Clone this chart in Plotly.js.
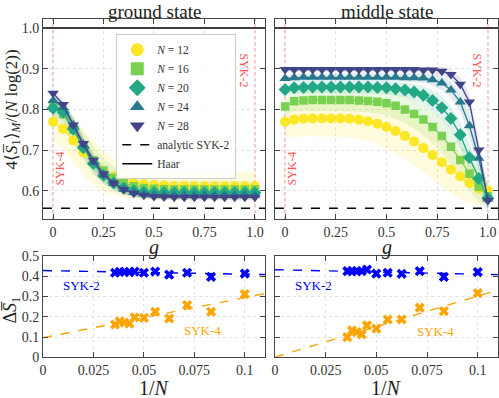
<!DOCTYPE html>
<html>
<head>
<meta charset="utf-8">
<script src="https://cdn.plot.ly/plotly-3.0.1.min.js"></script>
<style>
  html, body { margin: 0; padding: 0; background: #fff; }
  #plot { width: 499px; height: 398px; }
</style>
</head>
<body>
<div id="plot"></div>
<script>
// sizes of the systems shown in the top panels
var sizes = [12, 16, 20, 24, 28];
var colors = ['#fde725', '#7ad151', '#22a884', '#2a788e', '#414487'];
var symbols = ['circle', 'square', 'diamond', 'triangle-up', 'triangle-down'];

// ground state, coupling g
var gGround = [0, 0.05, 0.1, 0.15, 0.2, 0.25, 0.3, 0.35, 0.4, 0.45, 0.5, 0.55, 0.6, 0.65, 0.7, 0.75, 0.8, 0.85, 0.9, 0.95, 1.0];
var ground12 = [0.770, 0.752, 0.724, 0.694, 0.668, 0.648, 0.635, 0.626, 0.620, 0.616, 0.614, 0.613, 0.612, 0.612, 0.611, 0.611, 0.611, 0.611, 0.611, 0.611, 0.611];
var ground16 = [0.806, 0.788, 0.750, 0.710, 0.675, 0.650, 0.632, 0.619, 0.611, 0.607, 0.605, 0.604, 0.603, 0.603, 0.603, 0.603, 0.603, 0.603, 0.603, 0.603, 0.603];
var ground20 = [0.803, 0.793, 0.752, 0.706, 0.667, 0.638, 0.619, 0.607, 0.600, 0.597, 0.596, 0.595, 0.595, 0.595, 0.595, 0.595, 0.595, 0.595, 0.595, 0.595, 0.595];
var ground24 = [0.822, 0.805, 0.762, 0.713, 0.670, 0.639, 0.618, 0.604, 0.596, 0.592, 0.590, 0.589, 0.589, 0.589, 0.589, 0.589, 0.589, 0.589, 0.589, 0.589, 0.589];
var ground28 = [0.840, 0.812, 0.762, 0.716, 0.675, 0.642, 0.619, 0.603, 0.594, 0.589, 0.586, 0.585, 0.584, 0.584, 0.584, 0.584, 0.584, 0.584, 0.584, 0.584, 0.584];
// half width of the shaded bands
var groundErr12 = [0.045, 0.050, 0.055, 0.055, 0.055, 0.050, 0.045, 0.042, 0.040, 0.038, 0.037, 0.036, 0.035, 0.035, 0.035, 0.035, 0.035, 0.035, 0.035, 0.035, 0.035];
var groundErr16 = [0.025, 0.030, 0.035, 0.035, 0.035, 0.030, 0.027, 0.025, 0.024, 0.023, 0.022, 0.022, 0.022, 0.022, 0.022, 0.022, 0.022, 0.022, 0.022, 0.022, 0.022];
var groundErr20 = [0.018, 0.020, 0.025, 0.025, 0.024, 0.021, 0.019, 0.017, 0.016, 0.015, 0.015, 0.015, 0.015, 0.015, 0.015, 0.015, 0.015, 0.015, 0.015, 0.015, 0.015];
var groundErr24 = [0.012, 0.015, 0.018, 0.018, 0.017, 0.015, 0.013, 0.012, 0.011, 0.010, 0.010, 0.010, 0.010, 0.010, 0.010, 0.010, 0.010, 0.010, 0.010, 0.010, 0.010];
var groundErr28 = [0.008, 0.010, 0.012, 0.012, 0.012, 0.010, 0.009, 0.008, 0.008, 0.007, 0.007, 0.007, 0.007, 0.007, 0.007, 0.007, 0.007, 0.007, 0.007, 0.007, 0.007];

// middle state
var gMiddle = [0, 0.045, 0.091, 0.136, 0.182, 0.227, 0.273, 0.318, 0.364, 0.409, 0.455, 0.5, 0.545, 0.591, 0.636, 0.682, 0.727, 0.773, 0.818, 0.864, 0.909, 0.955, 1.0];
var middle12 = [0.770, 0.775, 0.777, 0.778, 0.778, 0.778, 0.778, 0.777, 0.775, 0.771, 0.765, 0.757, 0.747, 0.735, 0.721, 0.705, 0.688, 0.670, 0.652, 0.635, 0.619, 0.606, 0.601];
var middle16 = [0.807, 0.820, 0.822, 0.823, 0.823, 0.823, 0.823, 0.823, 0.822, 0.821, 0.819, 0.815, 0.809, 0.800, 0.789, 0.775, 0.757, 0.735, 0.708, 0.676, 0.642, 0.610, 0.586];
var middle20 = [0.849, 0.853, 0.854, 0.855, 0.855, 0.855, 0.855, 0.855, 0.855, 0.855, 0.854, 0.853, 0.851, 0.848, 0.843, 0.835, 0.822, 0.804, 0.778, 0.738, 0.682, 0.630, 0.582];
var middle24 = [0.876, 0.878, 0.879, 0.879, 0.879, 0.879, 0.879, 0.879, 0.879, 0.879, 0.879, 0.879, 0.879, 0.878, 0.878, 0.877, 0.873, 0.865, 0.848, 0.818, 0.760, 0.680, 0.580];
var middle28 = [0.898, 0.898, 0.898, 0.898, 0.898, 0.898, 0.898, 0.898, 0.898, 0.898, 0.898, 0.898, 0.898, 0.898, 0.898, 0.897, 0.897, 0.894, 0.886, 0.862, 0.818, 0.700, 0.576];
var middleErr12 = [0.040, 0.042, 0.043, 0.044, 0.044, 0.045, 0.045, 0.046, 0.047, 0.048, 0.050, 0.052, 0.054, 0.056, 0.058, 0.060, 0.060, 0.060, 0.058, 0.055, 0.050, 0.040, 0.030];
var middleErr16 = [0.020, 0.025, 0.026, 0.026, 0.026, 0.026, 0.027, 0.027, 0.028, 0.028, 0.029, 0.030, 0.032, 0.034, 0.036, 0.038, 0.040, 0.042, 0.044, 0.044, 0.042, 0.038, 0.030];
var middleErr20 = [0.012, 0.014, 0.015, 0.015, 0.015, 0.015, 0.015, 0.015, 0.015, 0.015, 0.015, 0.016, 0.017, 0.018, 0.020, 0.022, 0.025, 0.028, 0.030, 0.032, 0.033, 0.032, 0.030];
var middleErr24 = [0.008, 0.009, 0.009, 0.009, 0.009, 0.009, 0.009, 0.009, 0.009, 0.009, 0.009, 0.009, 0.010, 0.010, 0.011, 0.012, 0.014, 0.017, 0.020, 0.024, 0.028, 0.030, 0.028];
var middleErr28 = [0.006, 0.006, 0.006, 0.006, 0.006, 0.006, 0.006, 0.006, 0.006, 0.006, 0.006, 0.006, 0.006, 0.006, 0.007, 0.007, 0.008, 0.010, 0.013, 0.017, 0.022, 0.026, 0.024];

var analyticSYK2 = 0.557;
var haarValue = 1.0;

// bottom panels: Delta S vs 1/N
var invN = [0.0357, 0.0380, 0.0403, 0.0428, 0.0454, 0.0500, 0.0556, 0.0625, 0.0714, 0.0833, 0.1000];
var groundSYK2 = [0.417, 0.422, 0.422, 0.420, 0.423, 0.417, 0.423, 0.408, 0.417, 0.397, 0.413];
var groundSYK4 = [0.162, 0.178, 0.172, 0.167, 0.197, 0.195, 0.225, 0.192, 0.258, 0.225, 0.312];
var middleSYK2 = [0.425, 0.425, 0.425, 0.425, 0.433, 0.413, 0.417, 0.412, 0.425, 0.397, 0.420];
var middleSYK4 = [0.100, 0.133, 0.125, 0.113, 0.158, 0.142, 0.187, 0.187, 0.245, 0.228, 0.317];
// linear fits [intercept, slope]
var fitGroundSYK2 = [0.428, -0.18];
var fitGroundSYK4 = [0.097, 1.98];
var fitMiddleSYK2 = [0.432, -0.22];
var fitMiddleSYK4 = [0.002, 3.0];

var gRange = [-0.05, 1.05];
var invRange = [0, 0.11];

var groundSets = [ground12, ground16, ground20, ground24, ground28];
var groundErrs = [groundErr12, groundErr16, groundErr20, groundErr24, groundErr28];
var middleSets = [middle12, middle16, middle20, middle24, middle28];
var middleErrs = [middleErr12, middleErr16, middleErr20, middleErr24, middleErr28];

var font = 'Liberation Serif';
var bandAlpha = ['rgba(253,231,37,0.16)', 'rgba(122,209,81,0.16)', 'rgba(34,168,132,0.14)', 'rgba(42,120,142,0.14)', 'rgba(65,68,135,0.12)'];

var data = [];

function addPanel(g, sets, errs, xa, ya) {
  // bands
  sets.forEach(function (vals, i) {
    var up = vals.map(function (v, k) { return v + errs[i][k]; });
    var lo = vals.map(function (v, k) { return v - errs[i][k]; });
    data.push({x: g, y: up, xaxis: xa, yaxis: ya, mode: 'lines', line: {width: 0},
      hoverinfo: 'skip', showlegend: false});
    data.push({x: g, y: lo, xaxis: xa, yaxis: ya, mode: 'lines', line: {width: 0},
      fill: 'tonexty', fillcolor: bandAlpha[i], hoverinfo: 'skip', showlegend: false});
  });
  // lines and markers
  sets.forEach(function (vals, i) {
    data.push({x: g, y: vals, xaxis: xa, yaxis: ya, mode: 'lines+markers',
      line: {color: colors[i], width: 1.3},
      marker: {symbol: symbols[i], size: symbols[i] === 'square' ? 8.5 : 10, color: colors[i]},
      showlegend: false});
  });
  // reference lines
  data.push({x: gRange, y: [analyticSYK2, analyticSYK2], xaxis: xa, yaxis: ya, mode: 'lines',
    line: {color: 'black', width: 1.5, dash: 'dash'}, showlegend: false});
  data.push({x: gRange, y: [haarValue, haarValue], xaxis: xa, yaxis: ya, mode: 'lines',
    line: {color: 'black', width: 1.5}, showlegend: false});
}

addPanel(gGround, groundSets, groundErrs, 'x', 'y');
addPanel(gMiddle, middleSets, middleErrs, 'x2', 'y2');

// legend entries
sizes.forEach(function (n, i) {
  data.push({x: [null], y: [null], xaxis: 'x', yaxis: 'y', mode: 'markers',
    name: '<i>N</i> = ' + n,
    marker: {symbol: symbols[i], size: 13, color: colors[i]}});
});
data.push({x: [null], y: [null], xaxis: 'x', yaxis: 'y', mode: 'lines', name: 'analytic SYK-2',
  line: {color: 'black', width: 1.5, dash: 'dash'}});
data.push({x: [null], y: [null], xaxis: 'x', yaxis: 'y', mode: 'lines', name: 'Haar',
  line: {color: 'black', width: 1.5}});

function addBottom(xa, ya, s2, s4, f2, f4) {
  var fitX = invRange;
  data.push({x: fitX, y: fitX.map(function (v) { return f2[0] + f2[1] * v; }), xaxis: xa, yaxis: ya,
    mode: 'lines', line: {color: '#0000ff', width: 1.4, dash: 'dash'}, showlegend: false});
  data.push({x: fitX, y: fitX.map(function (v) { return f4[0] + f4[1] * v; }), xaxis: xa, yaxis: ya,
    mode: 'lines', line: {color: '#ffa500', width: 1.4, dash: 'dash'}, showlegend: false});
  data.push({x: invN, y: s2, xaxis: xa, yaxis: ya, mode: 'markers',
    marker: {symbol: 'x', size: 9, color: '#0000ff'}, showlegend: false});
  data.push({x: invN, y: s4, xaxis: xa, yaxis: ya, mode: 'markers',
    marker: {symbol: 'x', size: 9, color: '#ffa500'}, showlegend: false});
}
addBottom('x3', 'y3', groundSYK2, groundSYK4, fitGroundSYK2, fitGroundSYK4);
addBottom('x4', 'y4', middleSYK2, middleSYK4, fitMiddleSYK2, fitMiddleSYK4);

var axisBase = {
  showline: true, linecolor: '#444', linewidth: 1, mirror: 'ticks',
  ticks: 'inside', ticklen: 5, tickcolor: '#444',
  showgrid: true, gridcolor: '#e3e3e3', griddash: 'dot', gridwidth: 1,
  zeroline: false, tickfont: {family: font, size: 14, color: '#333'}
};
function ax(extra) { return Object.assign({}, axisBase, extra); }

var gTicks = {tickvals: [0, 0.25, 0.5, 0.75, 1], ticktext: ['0', '0.25', '0.5', '0.75', '1.0']};
var topY = {range: [0.53, 1.022], tickvals: [0.6, 0.7, 0.8, 0.9, 1.0], ticktext: ['0.6', '0.7', '0.8', '0.9', '1.0']};
var botX = {range: invRange, tickvals: [0, 0.025, 0.05, 0.075, 0.1], ticktext: ['0', '0.025', '0.05', '0.075', '0.1']};
var botY = {range: [0, 0.5], tickvals: [0, 0.1, 0.2, 0.3, 0.4, 0.5], ticktext: ['0', '0.1', '0.2', '0.3', '0.4', '0.5']};

var leftDom = [0.0862, 0.531];
var rightDom = [0.551, 0.998];
var topDom = [0.449, 0.952];
var botDom = [0.1018, 0.357];

var red = '#ff5555';
var shapes = [];
['x', 'x2'].forEach(function (xa, i) {
  var ya = i === 0 ? 'y' : 'y2';
  [0, 1].forEach(function (gv) {
    shapes.push({type: 'line', xref: xa, yref: ya + ' domain', x0: gv, x1: gv, y0: 0, y1: 1,
      line: {color: red, width: 1, dash: 'dot'}, layer: 'below'});
  });
});

var ann = [];
function txt(x, y, text, size, extra) {
  ann.push(Object.assign({x: x, y: y, xref: 'paper', yref: 'paper', xanchor: 'center', yanchor: 'middle',
    text: text, showarrow: false, borderpad: 0, font: {family: font, size: size, color: '#222'}}, extra || {}));
}
txt(0.309, 0.972, 'ground state', 19);
txt(0.775, 0.972, 'middle state', 19);
txt(0.309, 0.377, '<i>g</i>', 20);
txt(0.775, 0.377, '<i>g</i>', 20);
txt(0.309, 0.026, '1/<i>N</i>', 20);
txt(0.775, 0.026, '1/<i>N</i>', 20);
txt(0.026, 0.725, '4⟨<i>S̅</i><sub>1</sub>⟩<sub><i>M</i></sub>/(<i>N</i> log(2))', 17, {textangle: -90});
txt(0.024, 0.222, 'Δ<i>S̅</i><sub>1</sub>', 18, {textangle: -90});

// SYK labels in top panels
[['x', 'y'], ['x2', 'y2']].forEach(function (p) {
  ann.push({x: 0.035, y: 0.655, xref: p[0], yref: p[1], xanchor: 'center', yanchor: 'middle',
    text: 'SYK-4', textangle: -90, showarrow: false, font: {family: font, size: 12, color: red}});
  ann.push({x: 0.948, y: 0.895, xref: p[0], yref: p[1], xanchor: 'center', yanchor: 'middle',
    text: 'SYK-2', textangle: 90, showarrow: false, font: {family: font, size: 12, color: red}});
});
[['x3', 'y3', 0.356, 0.131], ['x4', 'y4', 0.354, 0.128]].forEach(function (p) {
  ann.push({x: 0.019, y: p[2], xref: p[0], yref: p[1], xanchor: 'center', yanchor: 'middle',
    text: 'SYK-2', showarrow: false, font: {family: font, size: 13, color: '#0000ff'}});
  ann.push({x: 0.079, y: p[3], xref: p[0], yref: p[1], xanchor: 'center', yanchor: 'middle',
    text: 'SYK-4', showarrow: false, font: {family: font, size: 13, color: '#ffa500'}});
});

var layout = {
  width: 499, height: 398,
  margin: {l: 0, r: 0, t: 0, b: 0},
  paper_bgcolor: 'white', plot_bgcolor: 'white',
  showlegend: true,
  legend: {x: 0.233, y: 0.914, xanchor: 'left', yanchor: 'top', traceorder: 'normal',
    bgcolor: 'rgba(255,255,255,0.85)', bordercolor: '#cccccc', borderwidth: 1,
    font: {family: font, size: 11.5, color: '#333'}, tracegroupgap: 0},
  xaxis: ax(Object.assign({domain: leftDom, range: gRange, anchor: 'y'}, gTicks)),
  yaxis: ax(Object.assign({domain: topDom, anchor: 'x'}, topY)),
  xaxis2: ax(Object.assign({domain: rightDom, range: gRange, anchor: 'y2'}, gTicks)),
  yaxis2: ax(Object.assign({domain: topDom, anchor: 'x2', showticklabels: false}, topY)),
  xaxis3: ax(Object.assign({domain: leftDom, anchor: 'y3'}, botX)),
  yaxis3: ax(Object.assign({domain: botDom, anchor: 'x3'}, botY)),
  xaxis4: ax(Object.assign({domain: rightDom, anchor: 'y4'}, botX)),
  yaxis4: ax(Object.assign({domain: botDom, anchor: 'x4', showticklabels: false}, botY)),
  shapes: shapes,
  annotations: ann
};

Plotly.newPlot('plot', data, layout, {displayModeBar: false, staticPlot: true});
</script>
</body>
</html>
